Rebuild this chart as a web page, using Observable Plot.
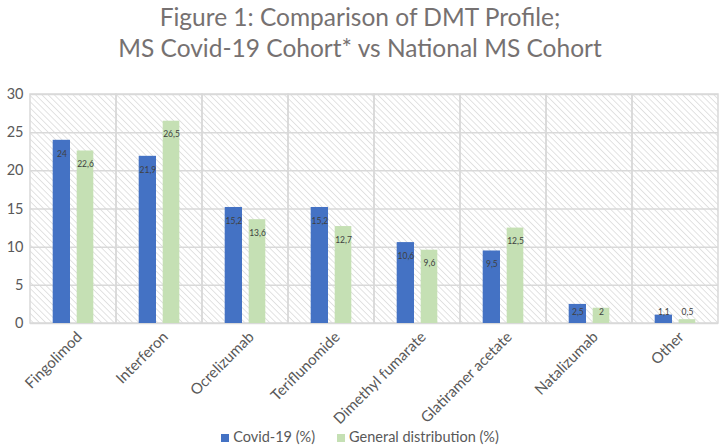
<!DOCTYPE html>
<html><head><meta charset="utf-8">
<script src="https://cdn.jsdelivr.net/npm/d3@7"></script>
<script src="https://cdn.jsdelivr.net/npm/@observablehq/plot@0.6"></script>
<style>
body{margin:0;background:#fff;font-family:Lato, sans-serif;}
#wrap{position:relative;width:720px;height:447px;overflow:hidden;background:#fff}
#title{position:absolute;top:1px;left:0;width:720px;text-align:center;font-size:24.5px;line-height:31px;color:#767171}
#chart{position:absolute;top:66px;left:0}
#legend{position:absolute;top:428px;left:0;width:720px;display:flex;justify-content:center;gap:22px;font-size:14.5px;color:#595959;line-height:18px}
.sw{display:inline-block;width:8px;height:8px;margin-right:4px;vertical-align:0px}
</style></head>
<body>
<div id="wrap">
  <div id="title"></div>
  <div id="chart"></div>
  <div id="legend"></div>
</div>
<script>
const titleLines = ["Figure 1: Comparison of DMT Profile;", "MS Covid-19 Cohort* vs National MS Cohort"];
const categories = ["Fingolimod", "Interferon", "Ocrelizumab", "Teriflunomide", "Dimethyl fumarate", "Glatiramer acetate", "Natalizumab", "Other"];
const covid = [24, 21.9, 15.2, 15.2, 10.6, 9.5, 2.5, 1.1];
const general = [22.6, 26.5, 13.6, 12.7, 9.6, 12.5, 2, 0.5];
const seriesNames = ["Covid-19 (%)", "General distribution (%)"];
const seriesColors = ["#4472C4", "#C5E0B4"];
const yTicks = [0, 5, 10, 15, 20, 25, 30];

document.getElementById("title").innerHTML = titleLines.map(t => `<div>${t}</div>`).join("");
document.getElementById("legend").innerHTML = seriesNames.map((s, i) =>
  `<span><span class="sw" style="background:${seriesColors[i]}"></span>${s}</span>`).join("");

const fmt = v => String(v).replace(".", ",");
const covidRows = categories.map((c, i) => ({cat: c, value: covid[i]}));
const generalRows = categories.map((c, i) => ({cat: c, value: general[i]}));
const big = d => d.value >= 3;
const small = d => d.value < 3;
const labelStyle = {fontSize: 8.5, fill: "#404040", text: d => fmt(d.value)};

const svg = Plot.plot({
  width: 720,
  height: 381,
  marginTop: 28,
  marginBottom: 124,
  marginLeft: 30,
  marginRight: 2,
  style: {fontFamily: "Lato, sans-serif", fontSize: "13px", color: "#595959", background: "transparent"},
  x: {domain: categories, padding: 0, label: null},
  y: {domain: [0, 30], label: null},
  marks: [
    Plot.cell(categories, {x: d => d, fill: "url(#hatch)", stroke: "#d9d9d9", strokeWidth: 1.5}),
    Plot.ruleY(yTicks, {stroke: "#d9d9d9", strokeWidth: 1.5}),
    Plot.barY(covidRows, {x: "cat", y: "value", fill: seriesColors[0], insetLeft: 22.7, insetRight: 46}),
    Plot.barY(generalRows, {x: "cat", y: "value", fill: seriesColors[1], insetLeft: 46.7, insetRight: 22.7}),
    Plot.text(covidRows.filter(big), {x: "cat", y: "value", dx: -11.6, dy: 13.5, ...labelStyle}),
    Plot.text(generalRows.filter(big), {x: "cat", y: "value", dx: 12, dy: 13.5, ...labelStyle}),
    Plot.text(covidRows.filter(small), {x: "cat", y: () => 1.5, dx: -11.6, ...labelStyle}),
    Plot.text(generalRows.filter(small), {x: "cat", y: () => 1.5, dx: 12, ...labelStyle}),
    Plot.axisY({ticks: yTicks, tickSize: 0, tickPadding: 7, fontSize: 14.5}),
    Plot.axisX({tickRotate: -45, tickSize: 0, tickPadding: 9, fontSize: 15, dx: 6, dy: 2})
  ]
});
d3.select(svg).insert("defs", ":first-child").html(
  `<pattern id="hatch" width="4.4" height="4.4" patternUnits="userSpaceOnUse" patternTransform="rotate(-45)">
     <line x1="0" y1="0" x2="0" y2="4.4" stroke="#d0d0d0" stroke-width="1.2"/>
   </pattern>`);
document.getElementById("chart").appendChild(svg);
</script>
</body></html>
